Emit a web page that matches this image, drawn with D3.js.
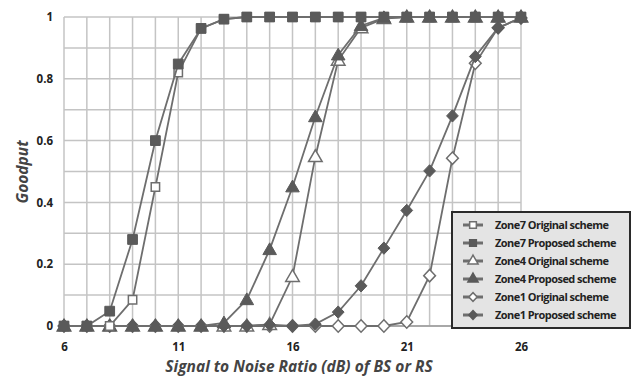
<!DOCTYPE html>
<html>
<head>
<meta charset="utf-8">
<script src="https://cdn.jsdelivr.net/npm/d3@7"></script>
<style>
  body { margin: 0; background: #fff; }
  svg { display: block; }
  .tick text { font-family: "Open Sans", "DejaVu Sans", sans-serif; font-weight: bold; font-size: 11.5px; fill: #222; }
</style>
</head>
<body>
<svg id="chart" width="635" height="381"></svg>
<script>
// x values (SNR, dB)
var snr = [6, 7, 8, 9, 10, 11, 12, 13, 14, 15, 16, 17, 18, 19, 20, 21, 22, 23, 24, 25, 26];

// goodput per series
var zone7Original = [0, 0, 0, 0.085, 0.45, 0.82, 0.963, 0.993, 1, 1, 1, 1, 1, 1, 1, 1, 1, 1, 1, 1, 1];
var zone7Proposed = [0, 0, 0.048, 0.28, 0.60, 0.848, 0.963, 0.993, 1, 1, 1, 1, 1, 1, 1, 1, 1, 1, 1, 1, 1];
var zone4Original = [0, 0, 0, 0, 0, 0, 0, 0, 0, 0.005, 0.16, 0.548, 0.86, 0.965, 0.995, 1, 1, 1, 1, 1, 1];
var zone4Proposed = [0, 0, 0, 0, 0, 0, 0, 0.01, 0.085, 0.247, 0.45, 0.677, 0.877, 0.972, 0.997, 1, 1, 1, 1, 1, 1];
var zone1Original = [0, 0, 0, 0, 0, 0, 0, 0, 0, 0, 0, 0, 0, 0, 0, 0.013, 0.163, 0.543, 0.85, 0.965, 0.997];
var zone1Proposed = [0, 0, 0, 0, 0, 0, 0, 0, 0, 0.004, 0, 0.006, 0.045, 0.13, 0.252, 0.374, 0.502, 0.68, 0.872, 0.965, 0.997];

var seriesNames = ["Zone7 Original scheme", "Zone7 Proposed scheme", "Zone4 Original scheme",
                   "Zone4 Proposed  scheme", "Zone1 Original scheme", "Zone1 Proposed scheme"];

var xTicks = [6, 11, 16, 21, 26];
var yTicks = [0, 0.2, 0.4, 0.6, 0.8, 1];

var series = [
    { name: seriesNames[0], values: zone7Original, shape: d3.symbolSquare, open: true },
    { name: seriesNames[1], values: zone7Proposed, shape: d3.symbolSquare, open: false },
    { name: seriesNames[2], values: zone4Original, shape: d3.symbolTriangle, open: true },
    { name: seriesNames[3], values: zone4Proposed, shape: d3.symbolTriangle, open: false },
    { name: seriesNames[4], values: zone1Original, shape: "diamond", open: true },
    { name: seriesNames[5], values: zone1Proposed, shape: "diamond", open: false }
];

var svg = d3.select("#chart");
var pLeft = 64, pRight = 521, pTop = 17, pBottom = 326;

var x = d3.scaleLinear().domain([6, 26]).range([pLeft, pRight]);
var y = d3.scaleLinear().domain([0, 1]).range([pBottom, pTop]);

var lineCol = "#6e6e6e", fillCol = "#5a5a5a";

// grid
var grid = svg.append("g");
grid.selectAll(".vg").data(d3.range(6, 27))
    .enter().append("line")
    .attr("x1", function(d) { return x(d); }).attr("x2", function(d) { return x(d); })
    .attr("y1", pTop).attr("y2", pBottom)
    .style("stroke", "#c4c4c4").style("stroke-width", "1.5px");
grid.selectAll(".hg").data(d3.range(0, 11))
    .enter().append("line")
    .attr("x1", pLeft).attr("x2", pRight)
    .attr("y1", function(d) { return y(d / 10); }).attr("y2", function(d) { return y(d / 10); })
    .style("stroke", "#c4c4c4").style("stroke-width", "1.5px");
svg.append("line").attr("x1", pLeft).attr("x2", pRight).attr("y1", y(0)).attr("y2", y(0))
    .style("stroke", "#9a9a9a").style("stroke-width", "1.5px");

// axes (labels only)
var yAxis = svg.append("g").attr("transform", "translate(" + (pLeft - 8) + ",0)")
    .call(d3.axisLeft(y).tickValues(yTicks).tickSize(0).tickFormat(d3.format("~g")));
yAxis.select(".domain").remove();

var xAxis = svg.append("g").attr("transform", "translate(0," + (pBottom + 14) + ")")
    .call(d3.axisBottom(x).tickValues(xTicks).tickSize(0));
xAxis.select(".domain").remove();

function symbolPath(shape, size) {
    if (shape === "diamond") {
        var r = Math.sqrt(size) * 0.62;
        return "M0," + (-r * 1.05) + "L" + r + ",0L0," + (r * 1.05) + "L" + (-r) + ",0Z";
    }
    return d3.symbol().type(shape).size(size)();
}

var line = d3.line()
    .x(function(d, i) { return x(snr[i]); })
    .y(function(d) { return y(d); });

// originals first, then proposed, Zone7 last so it sits on top
var drawOrder = [4, 2, 5, 3, 0, 1];
drawOrder.forEach(function(k) {
    var s = series[k];
    var g = svg.append("g");
    g.append("path").datum(s.values).attr("d", line)
        .style("fill", "none").style("stroke", lineCol).style("stroke-width", "1.8px");
    var size = s.shape === d3.symbolSquare ? (s.open ? 70 : 95) : (s.shape === d3.symbolTriangle ? 80 : 90);
    g.selectAll("path.m").data(s.values).enter().append("path")
        .attr("class", "m")
        .attr("transform", function(d, i) {
            var dy = s.shape === d3.symbolTriangle ? 1 : 0;
            return "translate(" + x(snr[i]) + "," + (y(d) + dy) + ")";
        })
        .attr("d", symbolPath(s.shape, size))
        .style("fill", s.open ? "#fff" : fillCol)
        .style("stroke", s.open ? lineCol : fillCol)
        .style("stroke-width", s.open ? "1.5px" : "1px");
});

// axis titles
svg.append("text")
    .attr("x", 299).attr("y", 372)
    .attr("text-anchor", "middle")
    .style("font-family", "'Open Sans', 'DejaVu Sans', sans-serif")
    .style("font-style", "italic").style("font-weight", "bold")
    .style("font-size", "15.5px").style("fill", "#444")
    .text("Signal to Noise Ratio (dB) of BS or RS");

svg.append("text")
    .attr("transform", "translate(28,172) rotate(-90)")
    .attr("text-anchor", "middle")
    .style("font-family", "'Open Sans', 'DejaVu Sans', sans-serif")
    .style("font-style", "italic").style("font-weight", "bold")
    .style("font-size", "15.5px").style("fill", "#444")
    .text("Goodput");

// legend
var legend = svg.append("g").attr("transform", "translate(452,212)");
legend.append("rect")
    .attr("width", 178).attr("height", 116)
    .style("fill", "#e4e4e4").style("stroke", "#2a2a2a").style("stroke-width", "2px");

var entries = legend.selectAll(".entry").data(series).enter().append("g")
    .attr("transform", function(d, i) { return "translate(0," + (13 + i * 18) + ")"; });
entries.append("line")
    .attr("x1", 11).attr("x2", 31)
    .style("stroke", lineCol).style("stroke-width", "3px");
entries.append("path")
    .attr("transform", "translate(21,0)")
    .attr("d", function(d) { return symbolPath(d.shape, 45); })
    .style("fill", function(d) { return d.open ? "#fff" : fillCol; })
    .style("stroke", function(d) { return d.open ? lineCol : fillCol; })
    .style("stroke-width", "1.5px");
entries.append("text")
    .attr("x", 43).attr("y", 4)
    .style("font-family", "'Open Sans', 'DejaVu Sans', sans-serif")
    .style("font-weight", "bold").style("font-size", "11px")
    .style("letter-spacing", "-0.55px")
    .style("fill", "#222")
    .text(function(d) { return d.name; });
</script>
</body>
</html>
